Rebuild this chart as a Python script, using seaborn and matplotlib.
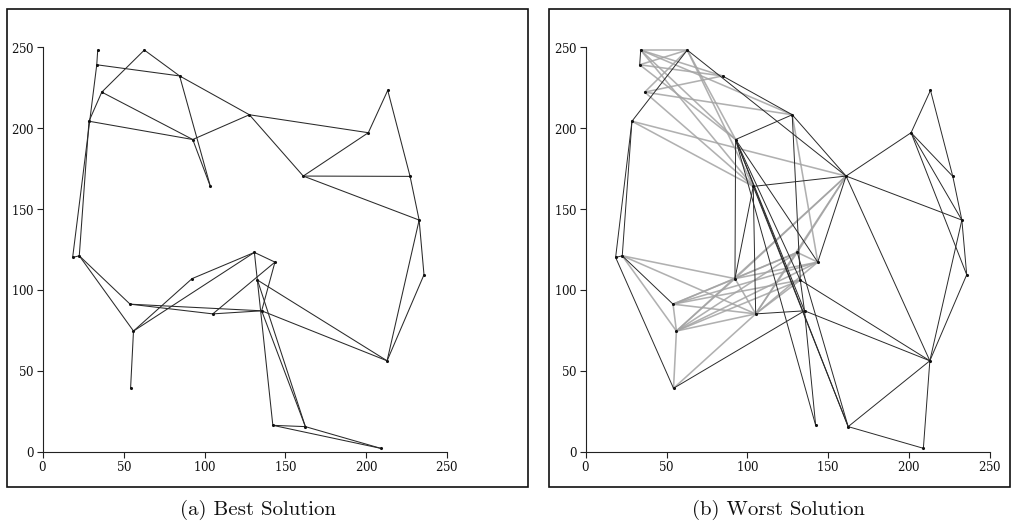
import matplotlib
matplotlib.use("Agg")
import matplotlib.pyplot as plt
from matplotlib.patches import Rectangle
import seaborn as sns
import pandas as pd

# ---- data -------------------------------------------------------------
node_names = ["A", "B", "C", "D", "E", "F", "G", "H", "I", "J",
              "K", "L", "M", "N", "O", "P", "Q", "R", "S", "T",
              "U", "V", "W", "X", "Y", "Z", "AA", "BB", "CC", "DD"]
node_x = [34.0, 33.4, 62.8, 84.6, 36.5, 28.6, 92.7, 103.6, 127.7, 201.2,
          213.2, 161.0, 227.0, 232.6, 18.5, 22.6, 54.0, 56.1, 54.3, 92.3,
          105.1, 130.8, 143.5, 132.7, 135.3, 212.8, 235.6, 142.2, 162.3, 208.8]
node_y = [248.3, 239.2, 248.3, 232.3, 222.3, 204.3, 193.0, 164.0, 208.3, 197.2,
          223.4, 170.4, 170.2, 143.2, 120.1, 121.1, 91.2, 74.6, 39.2, 107.0,
          85.2, 123.2, 117.2, 106.1, 87.1, 56.2, 109.4, 16.3, 15.5, 2.1]

best_edges = ["A-B", "B-D", "B-O", "C-E", "C-D", "D-I", "D-H", "E-F", "E-G",
              "F-G", "F-P", "G-H", "G-I", "I-J", "I-L", "J-K", "J-L", "K-M",
              "M-N", "L-M", "L-N", "N-AA", "N-Z", "AA-Z", "Z-X", "Z-Y", "O-P",
              "P-Q", "P-R", "R-S", "R-T", "R-V", "T-V", "Q-Y", "Q-U", "U-Y",
              "U-W", "V-W", "V-BB", "W-Y", "X-CC", "Y-CC", "BB-CC", "BB-DD",
              "CC-DD"]

worst_dark_edges = ["A-B", "F-O", "F-P", "O-P", "O-S", "P-Q", "G-T", "H-U",
                    "H-T", "H-L", "U-Y", "S-Y", "X-Z", "Y-Z", "Z-CC", "Z-DD",
                    "CC-DD", "Z-AA", "Z-N", "AA-N", "AA-J", "J-K", "J-L",
                    "J-M", "J-N", "K-M", "M-N", "L-N", "I-L", "D-I", "I-X",
                    "C-L", "G-I", "L-W", "G-W", "G-X", "G-Y", "G-BB", "G-CC",
                    "H-CC", "Y-BB", "V-CC", "X-Y", "C-F", "L-Z"]

worst_gray_edges = ["A-C", "A-D", "A-G", "A-I", "A-H", "B-C", "B-D", "B-G",
                    "C-E", "C-G", "C-H", "E-D", "E-I", "E-H", "F-H", "F-L",
                    "P-T", "P-U", "P-R", "Q-R", "Q-T", "Q-U", "Q-V", "Q-W",
                    "R-T", "R-U", "R-V", "R-W", "R-X", "R-L", "R-S", "S-U",
                    "T-U", "T-V", "T-W", "T-L", "U-V", "U-W", "U-L", "U-X",
                    "V-W", "V-L", "I-W", "Q-X"]

captions = ["(a) Best Solution", "(b) Worst Solution"]
tick_values = [0, 50, 100, 150, 200, 250]

# ---- drawing ----------------------------------------------------------
sns.set_theme(style="ticks")
plt.rcParams["axes.formatter.use_mathtext"] = True

nodes = pd.DataFrame({"name": node_names, "x": node_x, "y": node_y}).set_index("name")

W, H = 1017, 528
fig = plt.figure(figsize=(W / 100, H / 100), dpi=100)


def draw_edges(ax, edges, color, lw, alpha=1.0):
    for e in edges:
        a, b = e.split("-")
        ax.plot([nodes.loc[a, "x"], nodes.loc[b, "x"]],
                [nodes.loc[a, "y"], nodes.loc[b, "y"]],
                color=color, lw=lw, alpha=alpha, solid_capstyle="round",
                clip_on=False, zorder=2)


def style_axis(ax):
    ax.set_xlim(0, 250)
    ax.set_ylim(0, 250)
    sns.despine(ax=ax)
    ax.spines["left"].set_bounds(0, 250)
    ax.spines["bottom"].set_bounds(0, 250)
    for s in ("left", "bottom"):
        ax.spines[s].set_linewidth(0.8)
        ax.spines[s].set_color("#222222")
    ax.set_xticks(tick_values)
    ax.set_yticks(tick_values)
    ax.tick_params(length=4, width=0.8, color="#222222", labelsize=8.5,
                   labelcolor="#111111", pad=2)
    for lab in ax.get_xticklabels() + ax.get_yticklabels():
        lab.set_family("DejaVu Serif")
    ax.set_xlabel("")
    ax.set_ylabel("")
    ax.set_facecolor("none")


ax_l = fig.add_axes([42.7 / W, (H - 451.7) / H, 404.6 / W, 404.4 / H])
ax_r = fig.add_axes([585.7 / W, (H - 451.7) / H, 404.3 / W, 404.4 / H])

draw_edges(ax_l, best_edges, "#2a2a2a", 0.75)
draw_edges(ax_r, worst_gray_edges, "#a3a3a3", 1.15, 0.85)
draw_edges(ax_r, worst_dark_edges, "#2a2a2a", 0.7)

for ax in (ax_l, ax_r):
    sns.scatterplot(data=nodes, x="x", y="y", ax=ax, color="#111111", s=5,
                    linewidth=0, zorder=3, clip_on=False)
    style_axis(ax)

# outer frames
fig.add_artist(Rectangle((7 / W, (H - 487) / H), 521 / W, 478 / H,
                         transform=fig.transFigure, fill=False,
                         edgecolor="#111111", lw=1.2))
fig.add_artist(Rectangle((549 / W, (H - 487) / H), 461 / W, 478 / H,
                         transform=fig.transFigure, fill=False,
                         edgecolor="#111111", lw=1.2))

fig.text(258 / W, 1 - 510 / H, captions[0], ha="center", va="center",
         fontsize=15, family="cmr10", color="#111111")
fig.text(778 / W, 1 - 510 / H, captions[1], ha="center", va="center",
         fontsize=15, family="cmr10", color="#111111")

fig.savefig("out.png", dpi=100)
